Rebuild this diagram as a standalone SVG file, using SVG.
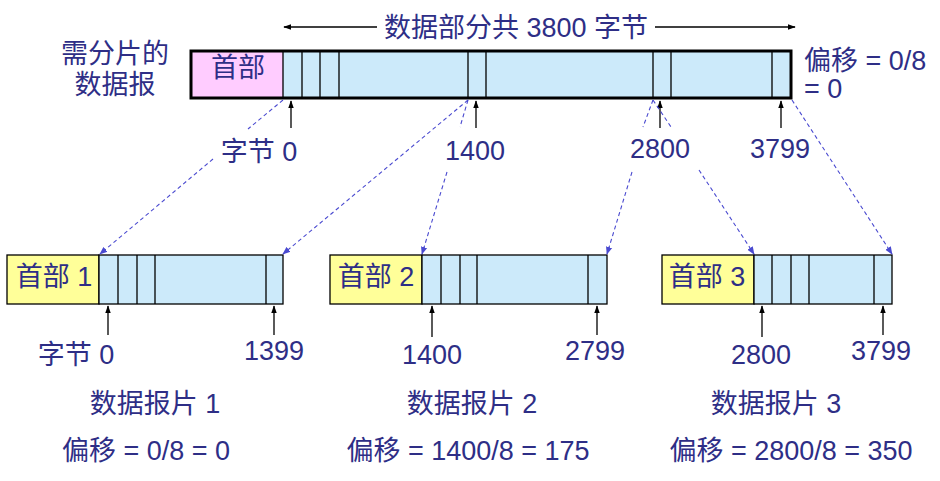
<svg xmlns="http://www.w3.org/2000/svg" width="940" height="481" viewBox="0 0 940 481">
<defs>
<style>
text{font-family:"Liberation Sans","Noto Sans CJK SC",sans-serif;fill:#2e2e86;font-size:27px}
.m{text-anchor:middle}
.data{fill:#cceafa;stroke:#000;stroke-width:1.3}
.div{stroke:#000;stroke-width:1.3}
.hdr{fill:#ffff99;stroke:#000;stroke-width:1.3}
.dash{stroke:#4a4ad0;stroke-width:1.1;stroke-dasharray:4 3;fill:none}
.ptr{stroke:#000;stroke-width:1.3;fill:none}
</style>
<marker id="ab" viewBox="0 0 10 10" refX="9" refY="5" markerWidth="8" markerHeight="8" markerUnits="userSpaceOnUse" orient="auto"><path d="M0,1 L10,5 L0,9 z" fill="#4a4ad0"/></marker>
<marker id="ak" viewBox="0 0 10 10" refX="9" refY="5" markerWidth="8" markerHeight="8" markerUnits="userSpaceOnUse" orient="auto"><path d="M0,1.5 L10,5 L0,8.5 z" fill="#000"/></marker>
</defs>
<rect width="940" height="481" fill="#fff"/>

<g id="title">
<text class="m" x="516" y="37">数据部分共 3800 字节</text>
<line x1="377" y1="27" x2="284" y2="27" class="ptr" marker-end="url(#ak)"/>
<line x1="655" y1="27" x2="795" y2="27" class="ptr" marker-end="url(#ak)"/>
</g>

<g id="orig">
<rect x="191" y="51" width="92" height="47" fill="#ffccff"/>
<rect x="283" y="51" width="508" height="47" fill="#cceafa"/>
<path class="div" d="M283,51V98M302,51V98M320,51V98M339,51V98M468,51V98M486,51V98M653,51V98M671,51V98M772,51V98"/>
<rect x="191" y="51" width="600" height="47" fill="none" stroke="#000" stroke-width="3"/>
<text class="m" x="238" y="77">首部</text>
<text class="m" x="115" y="63">需分片的</text>
<text class="m" x="115" y="94">数据报</text>
<text x="804" y="70">偏移 = 0/8</text>
<text x="804" y="98">= 0</text>
</g>

<g id="frag1">
<rect class="hdr" x="7" y="255" width="92" height="49"/>
<rect class="data" x="99" y="255" width="184" height="49"/>
<path class="div" d="M118,255V304M137,255V304M155,255V304M266,255V304"/>
<text class="m" x="54" y="286">首部 1</text>
<text class="m" x="155" y="413">数据报片 1</text>
<text class="m" x="146" y="460">偏移 = 0/8 = 0</text>
</g>

<g id="frag2">
<rect class="hdr" x="330" y="255" width="92" height="49"/>
<rect class="data" x="422" y="255" width="185" height="49"/>
<path class="div" d="M441,255V304M460,255V304M477,255V304M588,255V304"/>
<text class="m" x="376" y="286">首部 2</text>
<text class="m" x="472" y="413">数据报片 2</text>
<text class="m" x="468" y="460">偏移 = 1400/8 = 175</text>
</g>

<g id="frag3">
<rect class="hdr" x="662" y="255" width="92" height="49"/>
<rect class="data" x="754" y="255" width="138" height="49"/>
<path class="div" d="M772,255V304M791,255V304M809,255V304M874,255V304"/>
<text class="m" x="707" y="286">首部 3</text>
<text class="m" x="776" y="413">数据报片 3</text>
<text class="m" x="791" y="460">偏移 = 2800/8 = 350</text>
</g>

<g id="labels">
<text class="m" x="259" y="161">字节 0</text>
<text class="m" x="475" y="160">1400</text>
<text class="m" x="660" y="158">2800</text>
<text class="m" x="780" y="158">3799</text>
<text class="m" x="76" y="364">字节 0</text>
<text class="m" x="274" y="360">1399</text>
<text class="m" x="432" y="364">1400</text>
<text class="m" x="595" y="360">2799</text>
<text class="m" x="761" y="364">2800</text>
<text class="m" x="881" y="360">3799</text>
</g>

<g id="connectors">
<path class="ptr" d="M291,128V101" marker-end="url(#ak)"/>
<path class="ptr" d="M476,128V101" marker-end="url(#ak)"/>
<path class="ptr" d="M660,128V101" marker-end="url(#ak)"/>
<path class="ptr" d="M781,128V101" marker-end="url(#ak)"/>
<path class="ptr" d="M108,335V306" marker-end="url(#ak)"/>
<path class="ptr" d="M274,335V306" marker-end="url(#ak)"/>
<path class="ptr" d="M432,337V306" marker-end="url(#ak)"/>
<path class="ptr" d="M597,335V306" marker-end="url(#ak)"/>
<path class="ptr" d="M762,337V306" marker-end="url(#ak)"/>
<path class="ptr" d="M883,335V306" marker-end="url(#ak)"/>

<path class="dash" d="M283,100L248,129"/>
<path class="dash" d="M213,159L100,254" marker-end="url(#ab)"/>
<path class="dash" d="M468,100L283,254" marker-end="url(#ab)"/>
<path class="dash" d="M468,100L460,127"/>
<path class="dash" d="M447,172L422,254" marker-end="url(#ab)"/>
<path class="dash" d="M653,100L643,127"/>
<path class="dash" d="M632,172L607,254" marker-end="url(#ab)"/>
<path class="dash" d="M653,100L671,127"/>
<path class="dash" d="M699,170L754,254" marker-end="url(#ab)"/>
<path class="dash" d="M792,100L892,254" marker-end="url(#ab)"/>
</g>
</svg>
